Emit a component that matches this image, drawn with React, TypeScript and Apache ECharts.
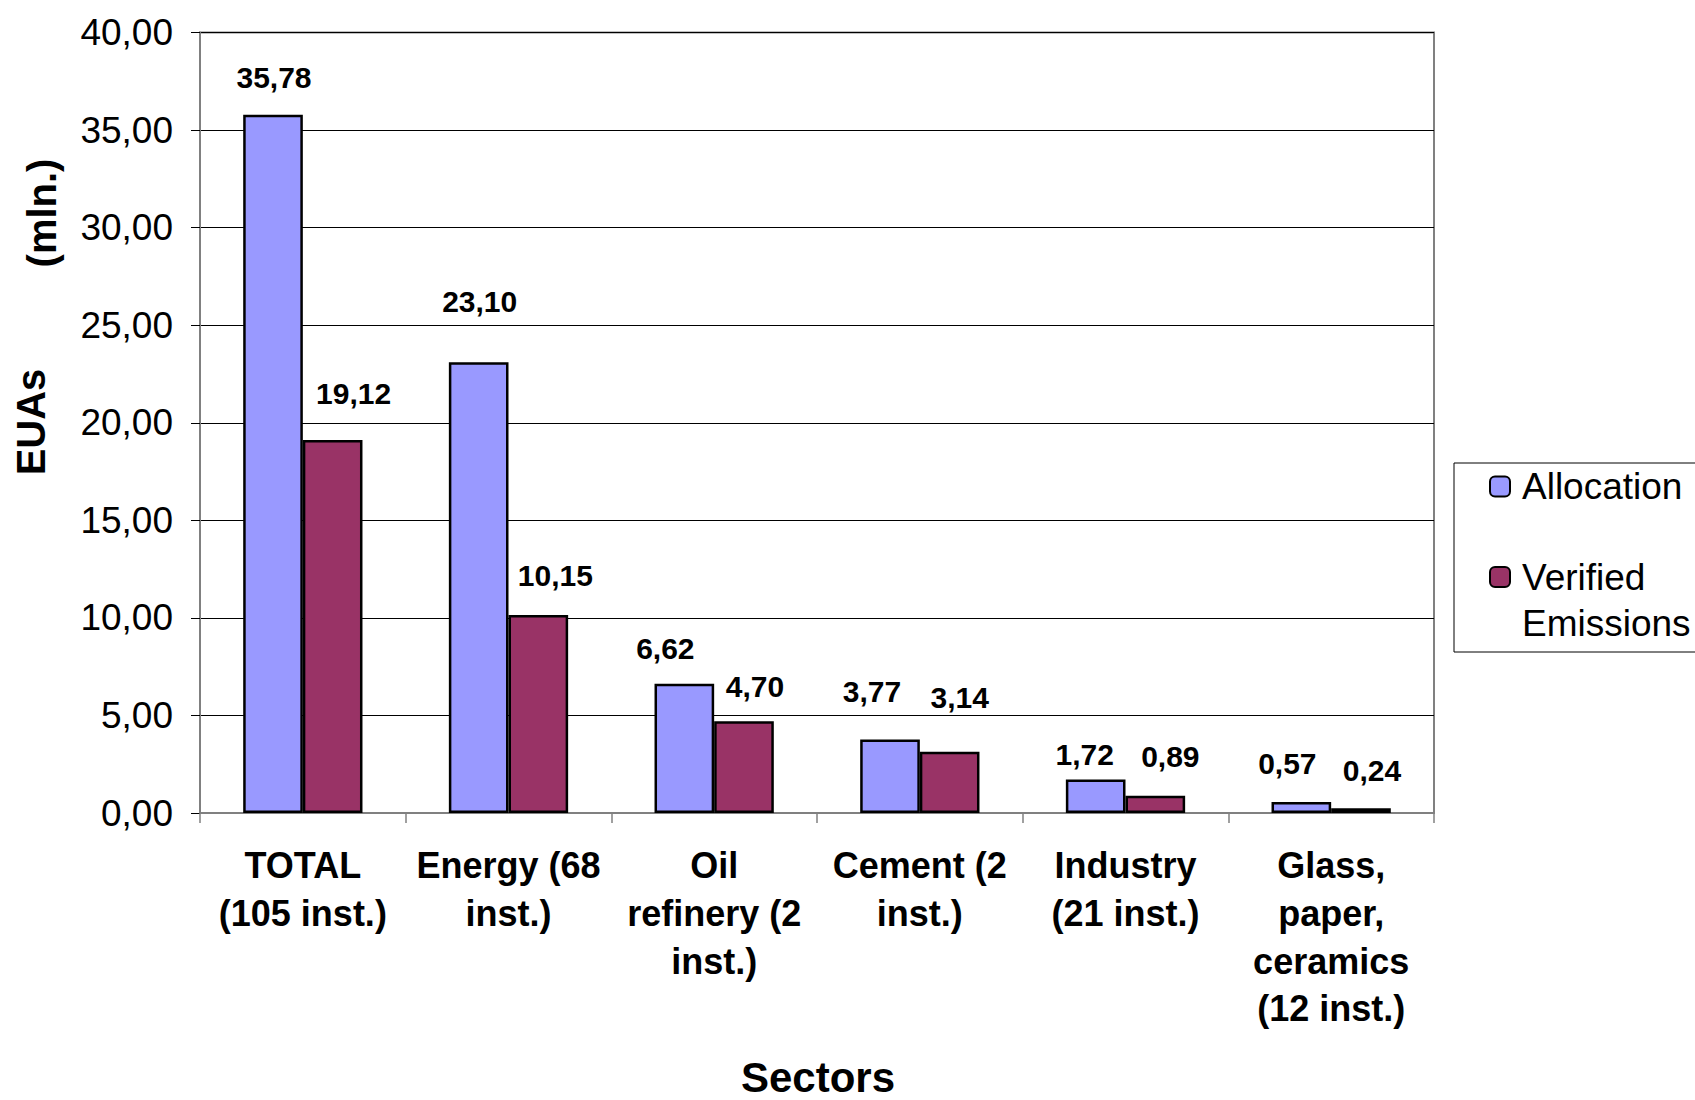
import React, { useEffect, useRef } from "react";
import * as echarts from "echarts";

const categories = [
  "TOTAL\n(105 inst.)",
  "Energy (68\ninst.)",
  "Oil\nrefinery (2\ninst.)",
  "Cement (2\ninst.)",
  "Industry\n(21 inst.)",
  "Glass,\npaper,\nceramics\n(12 inst.)",
];
const allocation = [35.78, 23.1, 6.62, 3.77, 1.72, 0.57];
const verified = [19.12, 10.15, 4.7, 3.14, 0.89, 0.24];
const seriesNames = ["Allocation", "Verified Emissions"];
const yTitleMain = "EUAs";
const yTitleUnit = "(mln.)";
const xTitle = "Sectors";

// label nudges (style only): horizontal shift and height of label centre above bar top
const allocLabelDx = [1, 1, -19, -18, -11, -14];
const allocLabelAbove = [37, 61, 35, 48, 25, 38];
const verLabelDx = [21, 17, 11, 10, 15, 11];
const verLabelAbove = [46, 39, 35, 54, 39, 38];

const FONT = "'Liberation Sans', Arial, sans-serif";
const fmt = (v: number) => v.toFixed(2).replace(".", ",");

export default function App() {
  const ref = useRef<HTMLDivElement>(null);
  useEffect(() => {
    const chart = echarts.init(ref.current!, null, { renderer: "svg" });
    const BASE = 41;
    const mkData = (vals: number[], dx: number[], above: number[]) =>
      vals.map((v, i) => ({
        value: v,
        label: { offset: [dx[i], -(above[i] - BASE)] },
      }));
    const labelStyle = {
      show: true,
      position: "top",
      distance: 26,
      fontFamily: FONT,
      fontWeight: "bold",
      fontSize: 30,
      lineHeight: 30,
      color: "#000",
      formatter: (p: any) => fmt(p.value),
    };
    chart.setOption({
      animation: false,
      backgroundColor: "#ffffff",
      textStyle: { fontFamily: FONT },
      grid: {
        left: 200,
        top: 32.5,
        right: 261,
        bottom: 287,
        show: true,
        borderColor: "#808080",
        borderWidth: 2,
        backgroundColor: "transparent",
      },
      legend: {
        orient: "vertical",
        left: 1454,
        top: 463,
        padding: [5, 60, 6, 35],
        itemGap: 3,
        itemWidth: 20,
        itemHeight: 20,
        borderColor: "#000",
        borderWidth: 1,
        backgroundColor: "#fff",
        textStyle: {
          fontFamily: FONT,
          fontSize: 37,
          lineHeight: 36,
          color: "#000",
        },
        formatter: (name: string) =>
          name === seriesNames[1] ? "\n" + name.replace(" ", "\n") : name,
        data: [
          { name: seriesNames[0], textStyle: { padding: [0, 0, 0, 7], lineHeight: 36 } },
          { name: seriesNames[1], textStyle: { padding: [0, 0, 0, 7], lineHeight: 46 } },
        ],
      },
      xAxis: {
        type: "category",
        data: categories,
        axisLine: { show: true, lineStyle: { color: "#808080", width: 2 } },
        axisTick: {
          show: true,
          alignWithLabel: false,
          length: 10,
          lineStyle: { color: "#808080", width: 1.5 },
        },
        axisLabel: {
          interval: 0,
          margin: 29,
          fontFamily: FONT,
          fontWeight: "bold",
          fontSize: 36,
          lineHeight: 47.6,
          color: "#000",
          align: "center",
          verticalAlign: "top",
        },
      },
      yAxis: {
        type: "value",
        min: 0,
        max: 40,
        interval: 5,
        axisLine: { show: true, lineStyle: { color: "#808080", width: 2 } },
        axisTick: {
          show: true,
          length: 9,
          lineStyle: { color: "#000", width: 1 },
        },
        splitLine: { show: true, lineStyle: { color: "#000", width: 1 } },
        axisLabel: {
          margin: 27,
          fontFamily: FONT,
          fontSize: 37,
          color: "#000",
          formatter: (v: number) => fmt(v),
        },
      },
      series: [
        {
          name: seriesNames[0],
          type: "bar",
          data: mkData(allocation, allocLabelDx, allocLabelAbove),
          barGap: "0%",
          barCategoryGap: "42%",
          itemStyle: { color: "#9999FF", borderColor: "#000", borderWidth: 2.5 },
          label: labelStyle,
        },
        {
          name: seriesNames[1],
          type: "bar",
          data: mkData(verified, verLabelDx, verLabelAbove),
          barGap: "0%",
          barCategoryGap: "42%",
          itemStyle: { color: "#993366", borderColor: "#000", borderWidth: 2.5 },
          label: labelStyle,
        },
      ],
      graphic: [
        {
          type: "text",
          x: 31,
          y: 422,
          rotation: Math.PI / 2,
          style: {
            text: yTitleMain,
            font: `bold 40px ${FONT}`,
            fill: "#000",
            align: "center",
            verticalAlign: "middle",
          },
        },
        {
          type: "text",
          x: 42,
          y: 213,
          rotation: Math.PI / 2,
          style: {
            text: yTitleUnit,
            font: `bold 40px ${FONT}`,
            fill: "#000",
            align: "center",
            verticalAlign: "middle",
          },
        },
        {
          type: "text",
          x: 818,
          y: 1077,
          style: {
            text: xTitle,
            font: `bold 42px ${FONT}`,
            lineHeight: 36,
            fill: "#000",
            align: "center",
            verticalAlign: "middle",
          },
        },
      ],
    });
    return () => chart.dispose();
  }, []);
  return (
    <div
      ref={ref}
      style={{ position: "absolute", left: 0, top: 0, width: 1695, height: 1100 }}
    />
  );
}
